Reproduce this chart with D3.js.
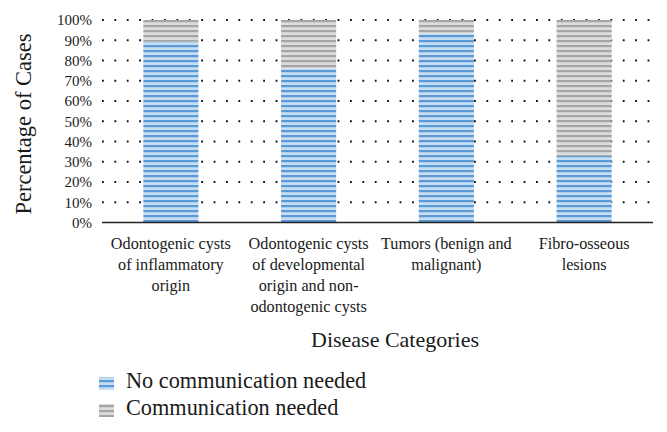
<!DOCTYPE html>
<html><head><meta charset="utf-8">
<script src="https://cdn.jsdelivr.net/npm/d3@7"></script>
<style>body{margin:0;background:#fff}svg{display:block}text{font-family:"Liberation Serif","DejaVu Serif",serif;fill:#1a1a1a}</style>
</head><body>
<script>
const categories = [
  ["Odontogenic cysts","of inflammatory","origin"],
  ["Odontogenic cysts","of developmental","origin and non-","odontogenic cysts"],
  ["Tumors (benign and","malignant)"],
  ["Fibro-osseous","lesions"]
];
const noCommunication = [89.3, 76.2, 93.4, 32.9];
const communication = noCommunication.map(v => 100 - v);
const seriesNames = ["No communication needed", "Communication needed"];
const yTicks = [0,10,20,30,40,50,60,70,80,90,100];

const W = 667, H = 432;
const svg = d3.select("body").append("svg").attr("width", W).attr("height", H);
const defs = svg.append("defs");
function stripe(id, dark, light){
  const p = defs.append("pattern").attr("id", id).attr("patternUnits","userSpaceOnUse")
    .attr("width", 10).attr("height", 5);
  p.append("rect").attr("width",10).attr("height",5).attr("fill", light);
  p.append("rect").attr("y",0).attr("width",10).attr("height",2.2).attr("fill", dark);
}
stripe("pBlue", "#5b9bd5", "#c6ddf3");
stripe("pGray", "#a5a5a5", "#dcdcdc");

const x = d3.scaleBand().domain(d3.range(categories.length)).range([102, 653]).paddingInner(0.6).paddingOuter(0.3);
const y = d3.scaleLinear().domain([0,100]).range([222.5, 20]);

// dotted gridlines
svg.append("g").selectAll("line").data(yTicks.filter(t => t > 0)).join("line")
  .attr("x1", 102).attr("x2", 653).attr("y1", d => y(d)).attr("y2", d => y(d))
  .attr("stroke", "#111").attr("stroke-width", 1.8).attr("stroke-dasharray", "1.8 10.6");

// y tick labels
svg.append("g").selectAll("text").data(yTicks).join("text")
  .attr("x", 92).attr("y", d => y(d)).attr("dy", "0.35em").attr("text-anchor","end")
  .attr("font-size", 15).text(d => d + "%");

// bars
const bars = svg.append("g");
bars.selectAll("rect.b").data(noCommunication).join("rect").attr("class","b")
  .attr("x", (d,i) => x(i)).attr("width", x.bandwidth())
  .attr("y", d => y(d)).attr("height", d => y(0) - y(d)).attr("fill","url(#pBlue)");
bars.selectAll("rect.g").data(communication).join("rect").attr("class","g")
  .attr("x", (d,i) => x(i)).attr("width", x.bandwidth())
  .attr("y", (d,i) => y(noCommunication[i] + d)).attr("height", (d,i) => y(noCommunication[i]) - y(noCommunication[i] + d))
  .attr("fill","url(#pGray)");

// baseline
svg.append("line").attr("x1", 102).attr("x2", 653).attr("y1", y(0)).attr("y2", y(0))
  .attr("stroke", "#222").attr("stroke-width", 1.3);

// category labels
const cg = svg.append("g");
categories.forEach((lines, i) => {
  const cx = x(i) + x.bandwidth()/2;
  const t = cg.append("text").attr("text-anchor","middle").attr("font-size", 16.2);
  lines.forEach((l, k) => t.append("tspan").attr("x", cx).attr("y", 249 + k*21).text(l));
});

// axis titles
svg.append("text").attr("text-anchor","middle").attr("font-size", 22.5)
  .attr("transform", "translate(31,124) rotate(-90)").text("Percentage of Cases");
svg.append("text").attr("text-anchor","middle").attr("font-size", 22)
  .attr("x", 395).attr("y", 347).text("Disease Categories");

// legend
const lg = svg.append("g");
const pats = ["url(#pBlue)", "url(#pGray)"];
seriesNames.forEach((n, i) => {
  const base = 388 + i*27;
  lg.append("rect").attr("x", 99).attr("y", base - 11).attr("width", 15).attr("height", 13).attr("fill", pats[i]);
  lg.append("text").attr("x", 126).attr("y", base).attr("font-size", 22.3).text(n);
});
</script>
</body></html>
